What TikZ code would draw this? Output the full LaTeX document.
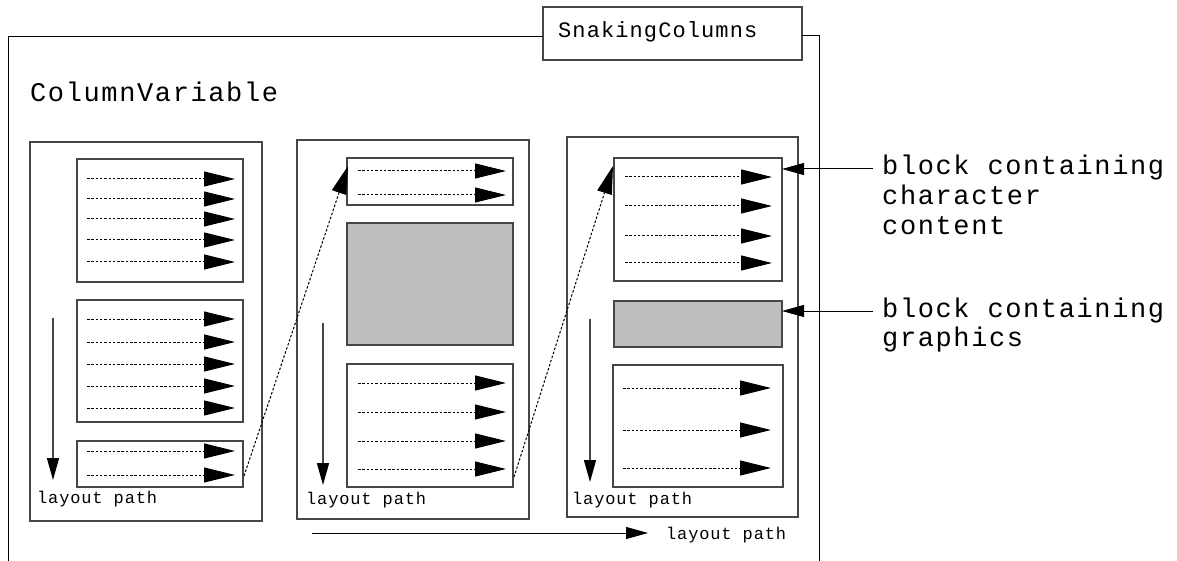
\documentclass[tikz,border=0pt]{standalone}
\usepackage{fontspec}
\usetikzlibrary{arrows.meta,calc}
\newfontfamily\bigf[LetterSpace=6]{Liberation Mono}
\newfontfamily\midf[LetterSpace=5]{Liberation Mono}
\newfontfamily\smallf[LetterSpace=5]{Liberation Mono}
\definecolor{boxline}{RGB}{70,70,70}
\definecolor{gfxfill}{RGB}{190,190,190}
\begin{document}
\begin{tikzpicture}[x=1pt,y=-1pt,
  frame/.style={draw=black, line width=1pt},
  colbox/.style={draw=boxline, line width=1.4pt, rectangle, inner sep=0pt, outer sep=0pt, anchor=north west},
  blockbox/.style={draw=boxline, line width=1.4pt, fill=white, rectangle, inner sep=0pt, outer sep=0pt, anchor=north west},
  gfxbox/.style={blockbox, fill=gfxfill},
  rowarrow/.style={draw=black, dash pattern=on 2.5pt off 1.8pt, line width=1pt, -{Triangle[length=31pt,width=15pt]}},
  snake/.style={draw=black, dash pattern=on 2.5pt off 1.8pt, line width=1pt, -{Triangle[length=28pt,width=15pt]}},
  downarrow/.style={draw=boxline, line width=1.4pt, -{Triangle[length=22pt,width=12pt,color=black,fill=black]}},
  pointer/.style={draw=black, line width=1pt, -{Triangle[length=22pt,width=12pt]}},
  bigtxt/.style={anchor=base west, inner sep=0pt, font=\fontsize{27}{30}\bigf},
  midtxt/.style={anchor=base west, inner sep=0pt, font=\fontsize{22}{26}\midf},
  smalltxt/.style={anchor=base west, inner sep=0pt, font=\fontsize{17}{20}\smallf},
]
\useasboundingbox (0,0) rectangle (1177,561);
\fill[white] (0,0) rectangle (1177,561);

% title box and outer frame
\node[colbox, minimum width=259pt, minimum height=53pt] (title) at (543,7) {};
\node[midtxt] (titletext) at (558,38) {SnakingColumns};
\coordinate (ftl) at ($(title.south west)+(0,-23)$);
\coordinate (ftr) at ($(title.south east)+(0,-24)$);
\draw[frame] (ftl) -- (8,37) -- (8,561);
\draw[frame] (ftr) -- (819,36) -- (819,561);

\node[bigtxt] (cv) at (30,102) {ColumnVariable};

% columns
\node[colbox, minimum width=232pt, minimum height=379pt] (c1) at (30,142) {};
\node[colbox, minimum width=232pt, minimum height=379pt] (c2) at (297,140) {};
\node[colbox, minimum width=231pt, minimum height=380pt] (c3) at (567,137) {};

% column 1 blocks
\node[blockbox, minimum width=166pt, minimum height=123pt] (b1a) at (77,159) {};
\node[blockbox, minimum width=166pt, minimum height=122pt] (b1b) at (77,300) {};
\node[blockbox, minimum width=166pt, minimum height=46pt] (b1c) at (77,441) {};
\foreach \y in {179,199,219,240,262} \draw[rowarrow] (87,\y) -- (235,\y);
\foreach \y in {319,342,364,386,408} \draw[rowarrow] (87,\y) -- (235,\y);
\foreach \y in {451,475} \draw[rowarrow] (87,\y) -- (235,\y);

% column 2 blocks
\node[blockbox, minimum width=166pt, minimum height=47pt] (b2a) at (347,158) {};
\node[gfxbox, minimum width=166pt, minimum height=122pt] (b2b) at (347,223) {};
\node[blockbox, minimum width=166pt, minimum height=123pt] (b2c) at (347,364) {};
\foreach \y in {171,195} \draw[rowarrow] (358,\y) -- (506,\y);
\foreach \y in {383,412,441,469} \draw[rowarrow] (358,\y) -- (506,\y);

% column 3 blocks
\node[blockbox, minimum width=168pt, minimum height=123pt] (b3a) at (614,158) {};
\node[gfxbox, minimum width=168pt, minimum height=46pt] (b3b) at (614,301) {};
\node[blockbox, minimum width=170pt, minimum height=122pt] (b3c) at (613,365) {};
\foreach \y in {177,206,236,263} \draw[rowarrow] (625,\y) -- (772,\y);
\foreach \y in {388,430,468} \draw[rowarrow] (623,\y) -- (771,\y);

% vertical layout paths
\draw[downarrow] (53,318) -- (53,480);
\draw[downarrow] (323,323) -- (323,485);
\draw[downarrow] (590,319) -- (590,482);
\node[smalltxt] (lp1) at (37,503) {layout path};
\node[smalltxt] (lp2) at (306,504) {layout path};
\node[smalltxt] (lp3) at (572,504) {layout path};

% snaking connectors
\coordinate (s1a) at ($(b1c.east)+(1,12)$);
\coordinate (s1b) at ($(b2a.north west)+(1,8)$);
\coordinate (s2a) at ($(b2c.south east)+(1,-10)$);
\coordinate (s2b) at ($(b3a.north west)+(-1,8)$);
\draw[snake] (s1a) -- (s1b);
\draw[snake] (s2a) -- (s2b);

% horizontal layout path
\coordinate (hp1) at (312,533);
\node[smalltxt] (lph) at (666,539) {layout path};
\draw[pointer] (hp1) -- (648,533);

% labels and pointers
\node[bigtxt] (l1a) at (882,175) {block containing};
\node[bigtxt] (l1b) at (882,205) {character};
\node[bigtxt] (l1c) at (882,235) {content};
\node[bigtxt] (l2a) at (882,317) {block containing};
\node[bigtxt] (l2b) at (882,346) {graphics};
\coordinate (p1) at (873,169);
\coordinate (p2) at (873,311);
\draw[pointer] (p1) -- (p1 -| b3a.east);
\draw[pointer] (p2) -- (p2 -| b3b.east);
\end{tikzpicture}
\end{document}
